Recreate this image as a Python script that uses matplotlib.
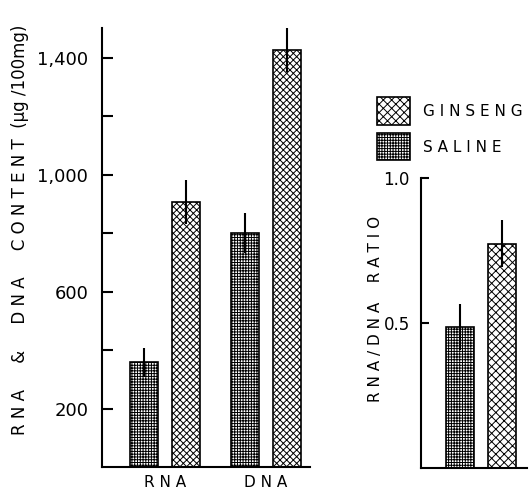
import numpy as np
import matplotlib.pyplot as plt
from matplotlib.patches import Rectangle

plt.rcParams['hatch.linewidth'] = 0.7
plt.rcParams['font.family'] = 'DejaVu Sans'

# content (ug/100mg)
groups = ["RNA", "DNA"]
saline = [358, 800]
saline_err = [50, 70]
ginseng = [906, 1425]
ginseng_err = [75, 75]

# RNA/DNA ratio
ratio_saline = 0.486
ratio_saline_err = 0.08
ratio_ginseng = 0.774
ratio_ginseng_err = 0.08

yticks = [200, 400, 600, 800, 1000, 1200, 1400]
ylabels = ["200", "", "600", "", "1,000", "", "1,400"]

fig = plt.figure(figsize=(5.29, 4.93), dpi=100)

w = 0.28
off = 0.21
x = np.arange(len(groups))

ax = fig.add_axes([0.193, 0.0527, 0.393, 0.890])
ax.bar(x - off, saline, w, color='white', edgecolor='black', hatch='++++++', linewidth=1.2)
ax.bar(x + off, ginseng, w, color='white', edgecolor='black', hatch='xxxxx', linewidth=1.2)
ax.errorbar(x - off, saline, yerr=saline_err, fmt='none', ecolor='black', elinewidth=1.5, capsize=0)
ax.errorbar(x + off, ginseng, yerr=ginseng_err, fmt='none', ecolor='black', elinewidth=1.5, capsize=0)
ax.set_xlim(-0.624, 1.436)
ax.set_ylim(0, 1500)
ax.set_yticks(yticks)
ax.set_yticklabels(ylabels, fontsize=13)
ax.tick_params(axis='y', direction='in', length=8, width=1.5, pad=10)
ax.set_xticks(x)
ax.set_xticklabels(["R N A", "D N A"], fontsize=11)
ax.tick_params(axis='x', length=0, pad=6)
for s in ['top', 'right']:
    ax.spines[s].set_visible(False)
for s in ['left', 'bottom']:
    ax.spines[s].set_linewidth(1.5)
ax.set_ylabel("R N A     &     D N A     C O N T E N T  (µg /100mg)", fontsize=12)
ax.yaxis.set_label_coords(-0.35, 0.54)

# ratio panel
ax2 = fig.add_axes([0.796, 0.0507, 0.2, 0.588])
ax2.bar([-off], [ratio_saline], w, color='white', edgecolor='black', hatch='++++++', linewidth=1.2)
ax2.bar([off], [ratio_ginseng], w, color='white', edgecolor='black', hatch='xxxx', linewidth=1.2)
ax2.errorbar([-off], [ratio_saline], yerr=ratio_saline_err, fmt='none', ecolor='black', elinewidth=1.5, capsize=0)
ax2.errorbar([off], [ratio_ginseng], yerr=ratio_ginseng_err, fmt='none', ecolor='black', elinewidth=1.5, capsize=0)
ax2.set_xlim(-0.594, 0.455)
ax2.set_ylim(0, 1.0)
ax2.set_yticks([0.5, 1.0])
ax2.set_yticklabels(["0.5", "1.0"], fontsize=12)
ax2.tick_params(axis='y', direction='in', length=6, width=1.5, pad=8)
ax2.set_xticks([])
for s in ['top', 'right']:
    ax2.spines[s].set_visible(False)
for s in ['left', 'bottom']:
    ax2.spines[s].set_linewidth(1.5)
ax2.set_ylabel("R N A / D N A    R A T I O", fontsize=11)
ax2.yaxis.set_label_coords(-0.36, 0.55)

# legend drawn as patches in figure coords
fig.patches.append(Rectangle((377 / 529, 1 - 125 / 493), 33 / 529, 28 / 493, transform=fig.transFigure,
                             facecolor='white', edgecolor='black', hatch='xxxx', linewidth=1.2))
fig.patches.append(Rectangle((377 / 529, 1 - 160 / 493), 33 / 529, 27 / 493, transform=fig.transFigure,
                             facecolor='white', edgecolor='black', hatch='++++++', linewidth=1.2))
fig.text(423 / 529, 1 - 112 / 493, "G I N S E N G", fontsize=11, va='center')
fig.text(423 / 529, 1 - 147 / 493, "S A L I N E", fontsize=11, va='center')

fig.savefig("out.png", dpi=100)
